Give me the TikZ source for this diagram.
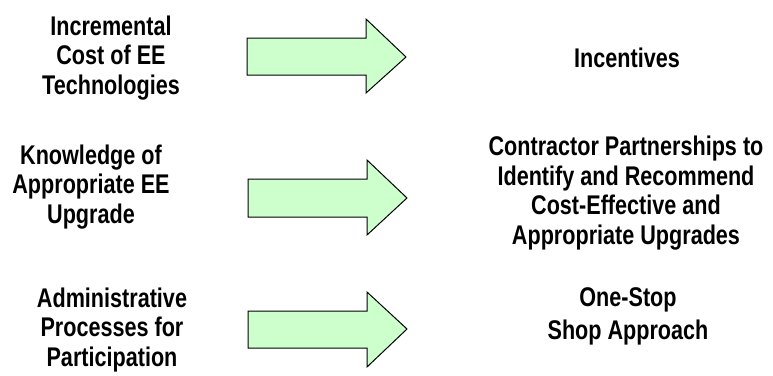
\documentclass[tikz,border=0pt]{standalone}
\usepackage{fontspec}
\newfontfamily\lab{Liberation Sans Bold}[FakeStretch=0.8]
\begin{document}
\begin{tikzpicture}[x=1pt,y=-1pt,
  lbl/.style={font=\lab\fontsize{27}{29.5}\selectfont, align=center, anchor=base, inner sep=0pt},
  blockarrow/.style={draw=black, line width=1pt, fill=arrowgreen, line join=miter}]
\definecolor{arrowgreen}{HTML}{CCFFCC}
\useasboundingbox (0,0) rectangle (773,375);
% left labels (anchored at the baseline of the last line)
\node[lbl] (l1) at (111,94) {Incremental\\Cost of EE\\Technologies};
\node[lbl] (l2) at (91,223) {Knowledge of\\Appropriate EE\\Upgrade};
\node[lbl] (l3) at (112,366) {Administrative\\Processes for\\Participation};
% right labels
\node[lbl] (r1) at (627,67) {Incentives};
\node[lbl] (r2) at (626,244) {Contractor Partnerships to\\Identify and Recommend\\Cost-Effective and\\Appropriate Upgrades};
\node[lbl, font=\lab\fontsize{27}{33}\selectfont] (r3) at (628,339) {One-Stop\\Shop Approach};
% block arrows
\draw[blockarrow] (247,38) -- (366,38) -- (366,19) -- (406,57) -- (366,93) -- (366,75) -- (247,75) -- cycle;
\draw[blockarrow] (248,179) -- (367,179) -- (367,160) -- (407,198) -- (367,235) -- (367,217) -- (248,217) -- cycle;
\draw[blockarrow] (248,311) -- (367,311) -- (367,292) -- (407,329) -- (367,367) -- (367,348) -- (248,348) -- cycle;
\end{tikzpicture}
\end{document}
